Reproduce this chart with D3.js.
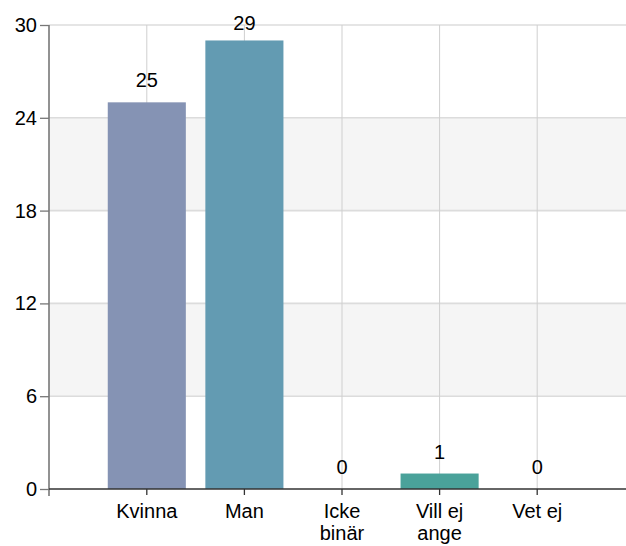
<!DOCTYPE html>
<html>
<head>
<meta charset="utf-8">
<script src="https://cdn.jsdelivr.net/npm/d3@7/dist/d3.min.js"></script>
<style>
  html, body { margin: 0; padding: 0; background: #fff; }
  svg { display: block; font-family: "Liberation Sans", Arial, sans-serif; }
</style>
</head>
<body>
<svg id="chart" width="626" height="546"></svg>
<script>
// ---- data ----
const categories = ["Kvinna", "Man", "Icke binär", "Vill ej ange", "Vet ej"];
const categoryLines = [["Kvinna"], ["Man"], ["Icke", "binär"], ["Vill ej", "ange"], ["Vet ej"]];
const values = [25, 29, 0, 1, 0];
const barColors = ["#8593b4", "#639bb2", "#8fb0a6", "#4aa29a", "#7aa0a0"];
const yTicks = [0, 6, 12, 18, 24, 30];
const shadedBands = [[18, 24], [6, 12]];

// ---- layout ----
const plotLeft = 49, plotRight = 626, plotTop = 25, plotBottom = 489;
const fontSize = 20;

const svg = d3.select("#chart");

const y = d3.scaleLinear().domain([0, 30]).range([plotBottom, plotTop]);
const x = d3.scaleBand().domain(categories).range([98, 586]).paddingInner(0.2).paddingOuter(0.1);
const cx = d => x(d) + x.bandwidth() / 2;

// shaded bands
svg.append("g").selectAll("rect").data(shadedBands).join("rect")
  .attr("x", plotLeft).attr("width", plotRight - plotLeft)
  .attr("y", d => y(d[1])).attr("height", d => y(d[0]) - y(d[1]))
  .attr("fill", "#f5f5f5");

// horizontal grid
svg.append("g").selectAll("line").data(yTicks.filter(t => t > 0)).join("line")
  .attr("x1", plotLeft).attr("x2", plotRight)
  .attr("y1", d => y(d)).attr("y2", d => y(d))
  .attr("stroke", "#dcdcdc").attr("stroke-width", 1.6);

// vertical grid
svg.append("g").selectAll("line").data(categories).join("line")
  .attr("x1", cx).attr("x2", cx)
  .attr("y1", plotTop).attr("y2", plotBottom)
  .attr("stroke", "#cfcfcf").attr("stroke-width", 1);

// bars
svg.append("g").selectAll("rect").data(categories).join("rect")
  .attr("x", d => x(d)).attr("width", x.bandwidth())
  .attr("y", (d, i) => y(values[i]))
  .attr("height", (d, i) => y(0) - y(values[i]))
  .attr("fill", (d, i) => barColors[i]);

// value labels
svg.append("g").selectAll("text").data(categories).join("text")
  .attr("x", cx)
  .attr("y", (d, i) => Math.max(y(values[i]) - 15, 30))
  .attr("text-anchor", "middle")
  .attr("font-size", fontSize)
  .attr("fill", "#000")
  .text((d, i) => values[i]);

// y axis
const yAxis = d3.axisLeft(y).tickValues(yTicks).tickSize(9).tickPadding(3);
const gy = svg.append("g").attr("transform", `translate(${plotLeft},0)`).call(yAxis);
gy.select(".domain").remove();
gy.selectAll(".tick line").attr("stroke", "#777").attr("stroke-width", 1.3);
gy.selectAll(".tick text").attr("font-size", fontSize).attr("fill", "#000")
  .attr("font-family", "Liberation Sans, Arial, sans-serif");
svg.append("line").attr("x1", plotLeft).attr("x2", plotLeft).attr("y1", plotTop).attr("y2", plotBottom + 7)
  .attr("stroke", "#777").attr("stroke-width", 1.6);

// x axis
const xAxis = d3.axisBottom(x).tickSize(6).tickFormat("");
const gx = svg.append("g").attr("transform", `translate(0,${plotBottom})`).call(xAxis);
gx.select(".domain").remove();
gx.selectAll(".tick line").attr("stroke", "#333").attr("stroke-width", 1.3);
svg.append("line").attr("x1", plotLeft).attr("x2", plotRight).attr("y1", plotBottom).attr("y2", plotBottom)
  .attr("stroke", "#333").attr("stroke-width", 1.6);

// category labels
const cl = svg.append("g").selectAll("text").data(categories).join("text")
  .attr("x", cx)
  .attr("y", 518)
  .attr("text-anchor", "middle")
  .attr("font-size", fontSize)
  .attr("fill", "#000");
cl.each(function(d, i) {
  const t = d3.select(this);
  categoryLines[i].forEach((ln, j) => {
    t.append("tspan").attr("x", cx(d)).attr("dy", j === 0 ? 0 : 22).text(ln);
  });
});
</script>
</body>
</html>
